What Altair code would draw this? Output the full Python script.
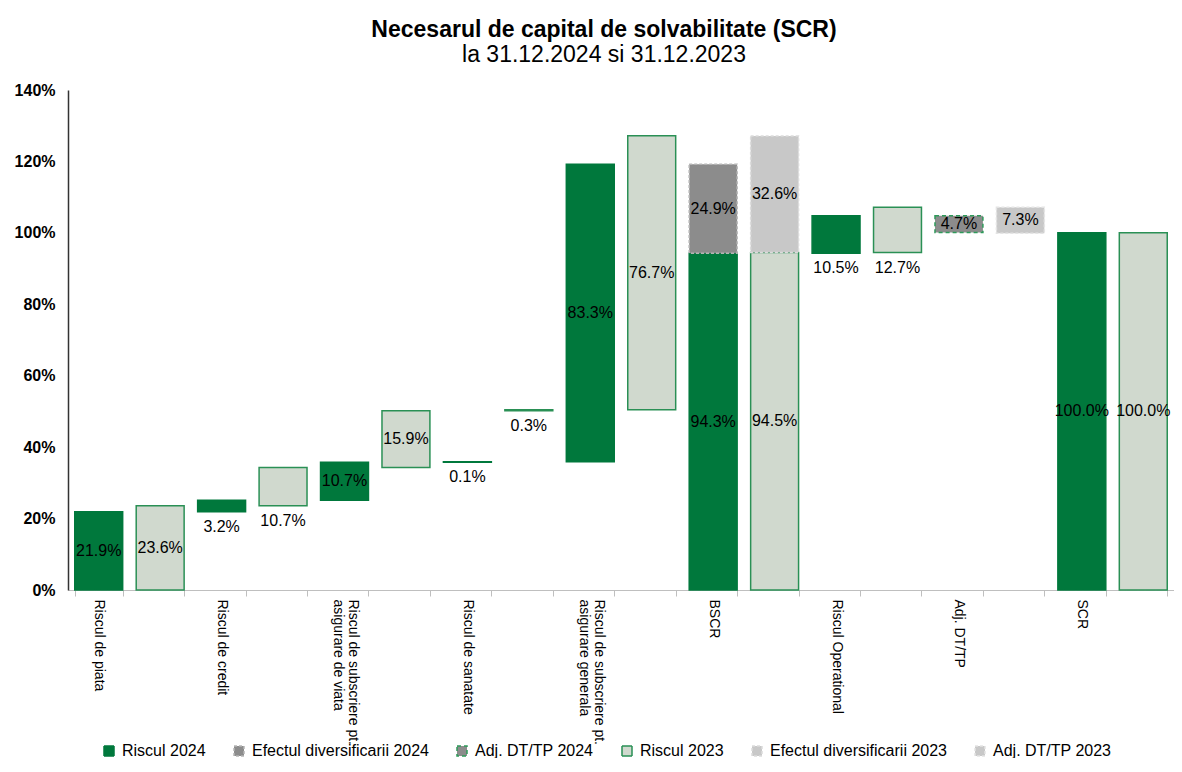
import altair as alt
import pandas as pd

categories = [
    "Riscul de piata",
    "Riscul de credit",
    "Riscul de subscriere pt.\nasigurare de viata",
    "Riscul de sanatate",
    "Riscul de subscriere pt.\nasigurare generala",
    "BSCR",
    "Riscul Operational",
    "Adj. DT/TP",
    "SCR",
]
risk_2024 = [21.9, 3.2, 10.7, 0.1, 83.3, 94.3, 10.5, -4.7, 100.0]
risk_2023 = [23.6, 10.7, 15.9, 0.3, 76.7, 94.5, 12.7, -7.3, 100.0]
diversification_2024 = 24.9
diversification_2023 = 32.6
label_below = [False, True, False, True, False, False, True, False, False]

series_order = [
    "Riscul 2024", "Efectul diversificarii 2024", "Adj. DT/TP 2024",
    "Riscul 2023", "Efectul diversificarii 2023", "Adj. DT/TP 2023",
]
fills = ["#00783C", "#8C8C8C", "#8C8C8C", "#D0D9CE", "#C8C8C8", "#C8C8C8"]
strokes = ["#00783C", "#B5B5B5", "#2E9A5A", "#2A9055", "#DCDCDC", "#E4E4E4"]
dashes = [[1, 0], [3, 2], [4, 3], [1, 0], [3, 2], [3, 2]]

# slot keys: 2024 slot carries the label, 2023 slot is marked with '#'
slot_order = []
for cat in categories:
    k = cat.replace("\n", "|")
    slot_order += [k, k + "#"]

rows = []
for year, vals, div in (("2024", risk_2024, diversification_2024), ("2023", risk_2023, diversification_2023)):
    cum = 0.0
    for i, (cat, v) in enumerate(zip(categories, vals)):
        slot = cat.replace("\n", "|") + ("" if year == "2024" else "#")
        mode = "below" if label_below[i] else "mid"
        if cat == "BSCR":
            rows.append(dict(slot=slot, series=f"Riscul {year}", y0=0.0, y1=v, value=v, mode=mode))
            rows.append(dict(slot=slot, series=f"Efectul diversificarii {year}", y0=v, y1=v + div, value=div, mode=mode))
            cum = v
        elif cat == "SCR":
            rows.append(dict(slot=slot, series=f"Riscul {year}", y0=0.0, y1=v, value=v, mode=mode))
        elif cat == "Adj. DT/TP":
            rows.append(dict(slot=slot, series=f"Adj. DT/TP {year}", y0=cum, y1=cum + v, value=v, mode=mode))
            cum += v
        else:
            rows.append(dict(slot=slot, series=f"Riscul {year}", y0=cum, y1=cum + v, value=v, mode=mode))
            cum += v

df = pd.DataFrame(rows)
df["y0"] = df["y0"] / 100
df["y1"] = df["y1"] / 100
df["label"] = df["value"].abs().map(lambda v: f"{v:.1f}%")
df["ymid"] = (df["y0"] + df["y1"]) / 2
df["ylow"] = df[["y0", "y1"]].min(axis=1)

W, H = 1106, 500
FONT = "Liberation Sans"

legend = alt.Legend(
    title=None, orient="none", legendX=33, legendY=653, direction="horizontal",
    columns=6, columnPadding=25, symbolType="square", symbolSize=100,
    symbolStrokeWidth=1.5, labelFontSize=16, labelColor="black", labelLimit=400,
    labelOffset=5, padding=0, labelFont=FONT,
)

x_enc = alt.X(
    "slot:N", sort=slot_order,
    scale=alt.Scale(paddingInner=0.22, paddingOuter=0.11),
    axis=alt.Axis(
        title=None, tickBand="extent", grid=False, domainColor="#BFBFBF", tickColor="#BFBFBF",
        tickSize=6, labelAngle=90, labelAlign="left", labelBaseline="middle",
        labelFontSize=14, labelLineHeight=15, labelColor="black", labelPadding=3,
        labelOverlap=False,
        labelOffset={
            "condition": {"test": "isString(datum.value) && indexof(datum.value, '|') >= 0", "value": 8},
            "value": 0,
        },
        labelExpr="(isString(datum.value) && indexof(datum.value, '#') < 0) ? split(datum.value, '|') : ''",
        labelFont=FONT,
    ),
)

bars = alt.Chart(df).mark_bar(strokeWidth=1.5).encode(
    x=x_enc,
    y=alt.Y(
        "y0:Q",
        scale=alt.Scale(domain=[0, 1.4], nice=False),
        axis=alt.Axis(
            title=None, values=[0, 0.2, 0.4, 0.6, 0.8, 1.0, 1.2, 1.4], format=".0%",
            labelFontWeight="bold", labelFontSize=16, labelColor="black", grid=False,
            ticks=False, domainColor="#333333", domainWidth=1.5, labelPadding=13,
            labelFont=FONT,
        ),
    ),
    y2="y1:Q",
    fill=alt.Fill("series:N", sort=series_order, scale=alt.Scale(domain=series_order, range=fills), legend=legend),
    stroke=alt.Stroke("series:N", sort=series_order, scale=alt.Scale(domain=series_order, range=strokes), legend=legend),
    strokeDash=alt.StrokeDash("series:N", sort=series_order, scale=alt.Scale(domain=series_order, range=dashes), legend=legend),
)

labels_mid = alt.Chart(df).transform_filter("datum.mode == 'mid'").mark_text(
    fontSize=16, color="black", font=FONT, baseline="middle"
).encode(x=alt.X("slot:N", sort=slot_order), y="ymid:Q", text="label:N")

labels_below = alt.Chart(df).transform_filter("datum.mode == 'below'").mark_text(
    fontSize=16, color="black", font=FONT, baseline="middle", dy=15
).encode(x=alt.X("slot:N", sort=slot_order), y="ylow:Q", text="label:N")

chart = alt.layer(bars, labels_mid, labels_below).properties(
    width=W, height=H,
    autosize=alt.AutoSizeParams(type="none"),
    padding={"left": 60, "top": 82, "right": 0, "bottom": 168},
    title=alt.TitleParams(
        text="Necesarul de capital de solvabilitate (SCR)",
        subtitle="la 31.12.2024 si 31.12.2023",
        fontSize=23, subtitleFontSize=23, fontWeight="bold", subtitleFontWeight="normal",
        color="black", subtitleColor="black", anchor="middle", offset=15,
        subtitlePadding=2, dx=-17, font=FONT, subtitleFont=FONT,
    ),
).configure(font=FONT).configure_view(stroke=None)

chart.save("out.html", embed_options={"renderer": "svg", "actions": False})
